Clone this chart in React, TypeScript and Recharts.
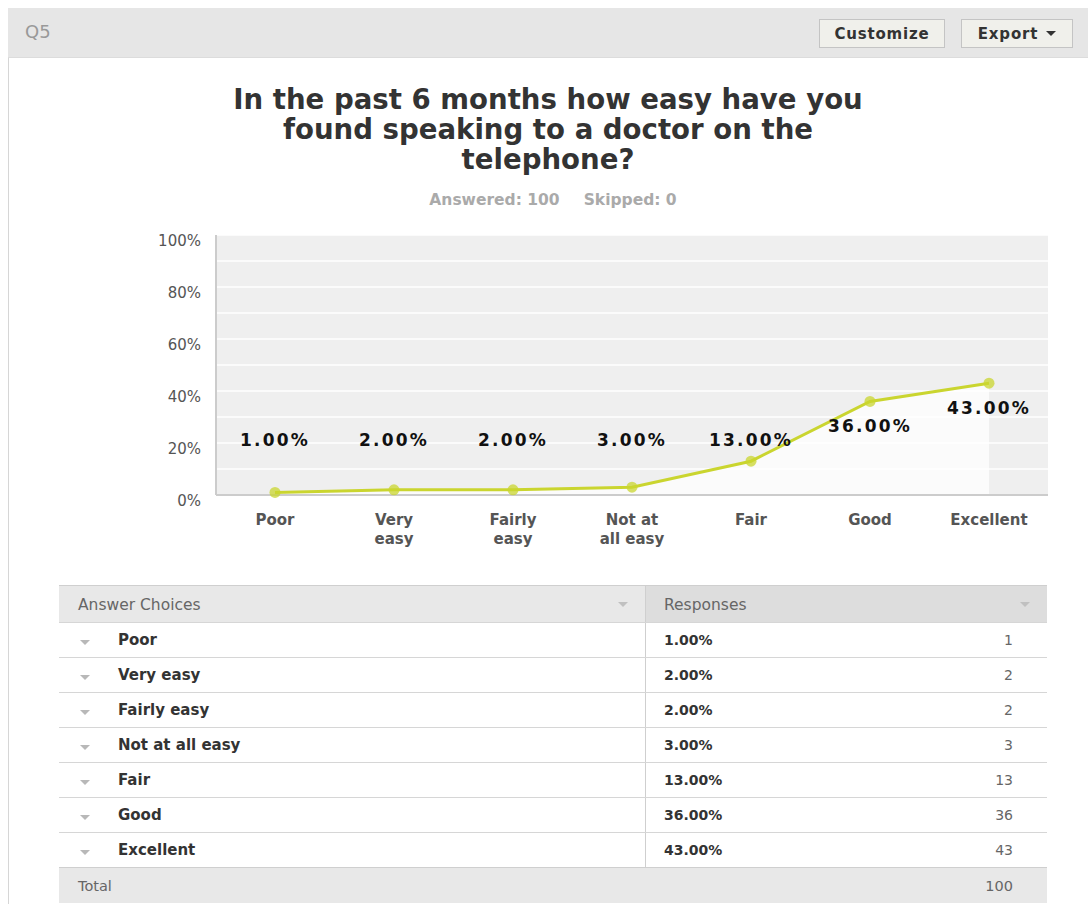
import { AreaChart, Area, XAxis, YAxis, CartesianGrid, LabelList } from 'recharts'

const categories = ['Poor', 'Very easy', 'Fairly easy', 'Not at all easy', 'Fair', 'Good', 'Excellent']
const axisLabels = ['Poor', 'Very\neasy', 'Fairly\neasy', 'Not at\nall easy', 'Fair', 'Good', 'Excellent']
const percents = [1, 2, 2, 3, 13, 36, 43]
const counts = [1, 2, 2, 3, 13, 36, 43]
const yTicks = [0, 10, 20, 30, 40, 50, 60, 70, 80, 90, 100]
const titleLines = ['In the past 6 months how easy have you', 'found speaking to a doctor on the', 'telephone?']
const answered = 100
const skipped = 0

const LINE = '#cad52f'
const FONT = '"DejaVu Sans", Verdana, sans-serif'
const PLOT_TOP = 10
const PLOT_H = 260

const data = categories.map((c, i) => ({ label: axisLabels[i], pct: percents[i] }))

const XTick = (props: any) => {
  const { x, y, payload } = props
  const lines = String(payload.value).split('\n')
  return (
    <g>
      {lines.map((l, i) => (
        <text key={i} x={x} y={y + 25 + i * 19} textAnchor="middle" dominantBaseline="central"
          fontFamily={FONT} fontSize={15} fontWeight="bold" fill="#555">{l}</text>
      ))}
    </g>
  )
}

const YTick = (props: any) => {
  const { x, y, payload } = props
  if (payload.value % 20 !== 0) return <g />
  return (
    <text x={x} y={y + 6} textAnchor="end" dominantBaseline="central"
      fontFamily={FONT} fontSize={15} fill="#555">{payload.value}%</text>
  )
}

const renderLabel = (props: any) => {
  const { x, y, value } = props
  // labels sit just under the point, but never lower than ~21%
  const cap = PLOT_TOP + PLOT_H * 0.79
  const cy = Math.min(y + 25, cap)
  return (
    <text x={x} y={cy} textAnchor="middle" dominantBaseline="central" fontFamily={FONT}
      fontSize={17} fontWeight="bold" letterSpacing={2.2} fill="#111">{Number(value).toFixed(2)}%</text>
  )
}

const Tri = ({ color = '#b5b5b5' }: { color?: string }) => (
  <span style={{ display: 'inline-block', width: 0, height: 0, borderLeft: '5px solid transparent', borderRight: '5px solid transparent', borderTop: `5px solid ${color}` }} />
)

export default function App() {
  const rowTop = 622
  return (
    <div style={{ position: 'absolute', left: 0, top: 0, width: 1088, height: 904, background: '#fff', fontFamily: FONT, overflow: 'hidden' }}>
      {/* panel border + header */}
      <div style={{ position: 'absolute', left: 8, top: 8, width: 1, height: 896, background: '#d6d6d6' }} />
      <div style={{ position: 'absolute', left: 8, top: 8, width: 1080, height: 49, background: '#e6e6e6', borderBottom: '1px solid #dcdcdc' }} />
      <div style={{ position: 'absolute', left: 25, top: 21, fontSize: 18, color: '#999' }}>Q5</div>
      <div style={{ position: 'absolute', left: 819, top: 19, width: 124, height: 27, background: '#f0f0eb', border: '1px solid #c4c4c4', display: 'flex', alignItems: 'center', justifyContent: 'center', fontSize: 15, fontWeight: 'bold', color: '#333', letterSpacing: 0.8 }}>Customize</div>
      <div style={{ position: 'absolute', left: 961, top: 19, width: 110, height: 27, background: '#f0f0eb', border: '1px solid #c4c4c4', display: 'flex', alignItems: 'center', justifyContent: 'center', gap: 8, fontSize: 15, fontWeight: 'bold', color: '#333', letterSpacing: 0.8 }}>
        Export <Tri color="#333" />
      </div>

      {/* title */}
      <div style={{ position: 'absolute', left: 148, top: 85, width: 800, textAlign: 'center', fontSize: 27.6, fontWeight: 'bold', color: '#333', lineHeight: '30px' }}>
        {titleLines.map((t, i) => <div key={i}>{t}</div>)}
      </div>
      <div style={{ position: 'absolute', left: 148, top: 191, width: 810, textAlign: 'center', fontSize: 15.5, fontWeight: 'bold', color: '#aaa' }}>
        Answered: {answered}<span style={{ display: 'inline-block', width: 24 }} />Skipped: {skipped}
      </div>

      {/* chart */}
      <div style={{ position: 'absolute', left: 140, top: 225 }}>
        <AreaChart width={920} height={340} data={data} margin={{ top: PLOT_TOP, right: 12, left: 0, bottom: 10 }}>
          <CartesianGrid vertical={false} stroke="#ffffff" strokeWidth={1.5} fill="#efefef" />
          <XAxis dataKey="label" interval={0} padding={{ left: 59, right: 59 }} height={60}
            axisLine={{ stroke: '#cccccc', strokeWidth: 2 }} tickLine={false} tickSize={0} tickMargin={0} tick={<XTick />} />
          <YAxis domain={[0, 100]} ticks={yTicks} interval={0} width={76}
            axisLine={{ stroke: '#cccccc', strokeWidth: 2 }} tickLine={false} tickSize={0} tickMargin={15} tick={<YTick />} />
          <Area type="linear" dataKey="pct" stroke={LINE} strokeWidth={3} fill="#ffffff" fillOpacity={0.75}
            dot={{ r: 5.5, fill: LINE, stroke: LINE, strokeWidth: 0 }} activeDot={false} isAnimationActive={false}>
            <LabelList dataKey="pct" content={renderLabel} />
          </Area>
        </AreaChart>
      </div>

      {/* table */}
      <div style={{ position: 'absolute', left: 59, top: 585, width: 988, height: 37, borderTop: '1px solid #cfcfcf', display: 'flex' }}>
        <div style={{ width: 587, background: '#e8e8e8', borderRight: '1px solid #cfcfcf', display: 'flex', alignItems: 'center', justifyContent: 'space-between', padding: '0 17px 0 19px', boxSizing: 'border-box', fontSize: 15.5, color: '#666' }}>
          <span>Answer Choices</span><Tri color="#c0c0c0" />
        </div>
        <div style={{ flex: 1, background: '#dddddd', display: 'flex', alignItems: 'center', justifyContent: 'space-between', padding: '0 17px 0 18px', boxSizing: 'border-box', fontSize: 15.5, color: '#666' }}>
          <span>Responses</span><Tri color="#c0c0c0" />
        </div>
      </div>
      {categories.map((c, i) => (
        <div key={c} style={{ position: 'absolute', left: 59, top: rowTop + i * 35, width: 988, height: 35, borderTop: '1px solid #d6d6d6', boxSizing: 'border-box', display: 'flex' }}>
          <div style={{ width: 587, borderRight: '1px solid #cfcfcf', display: 'flex', alignItems: 'center', fontSize: 15, fontWeight: 'bold', color: '#333', boxSizing: 'border-box' }}>
            <span style={{ width: 59, paddingLeft: 21, boxSizing: 'border-box' }}><Tri color="#b8b8b8" /></span>{c}
          </div>
          <div style={{ flex: 1, display: 'flex', alignItems: 'center', justifyContent: 'space-between', padding: '0 34px 0 18px', fontSize: 14 }}>
            <span style={{ fontWeight: 'bold', color: '#333' }}>{percents[i].toFixed(2)}%</span>
            <span style={{ color: '#666' }}>{counts[i]}</span>
          </div>
        </div>
      ))}
      <div style={{ position: 'absolute', left: 59, top: rowTop + categories.length * 35, width: 988, height: 36, background: '#e8e8e8', borderTop: '1px solid #cfcfcf', boxSizing: 'border-box', display: 'flex', alignItems: 'center', justifyContent: 'space-between', padding: '0 34px 0 19px', fontSize: 14.5, color: '#666' }}>
        <span>Total</span><span>{counts.reduce((a, b) => a + b, 0)}</span>
      </div>
    </div>
  )
}
